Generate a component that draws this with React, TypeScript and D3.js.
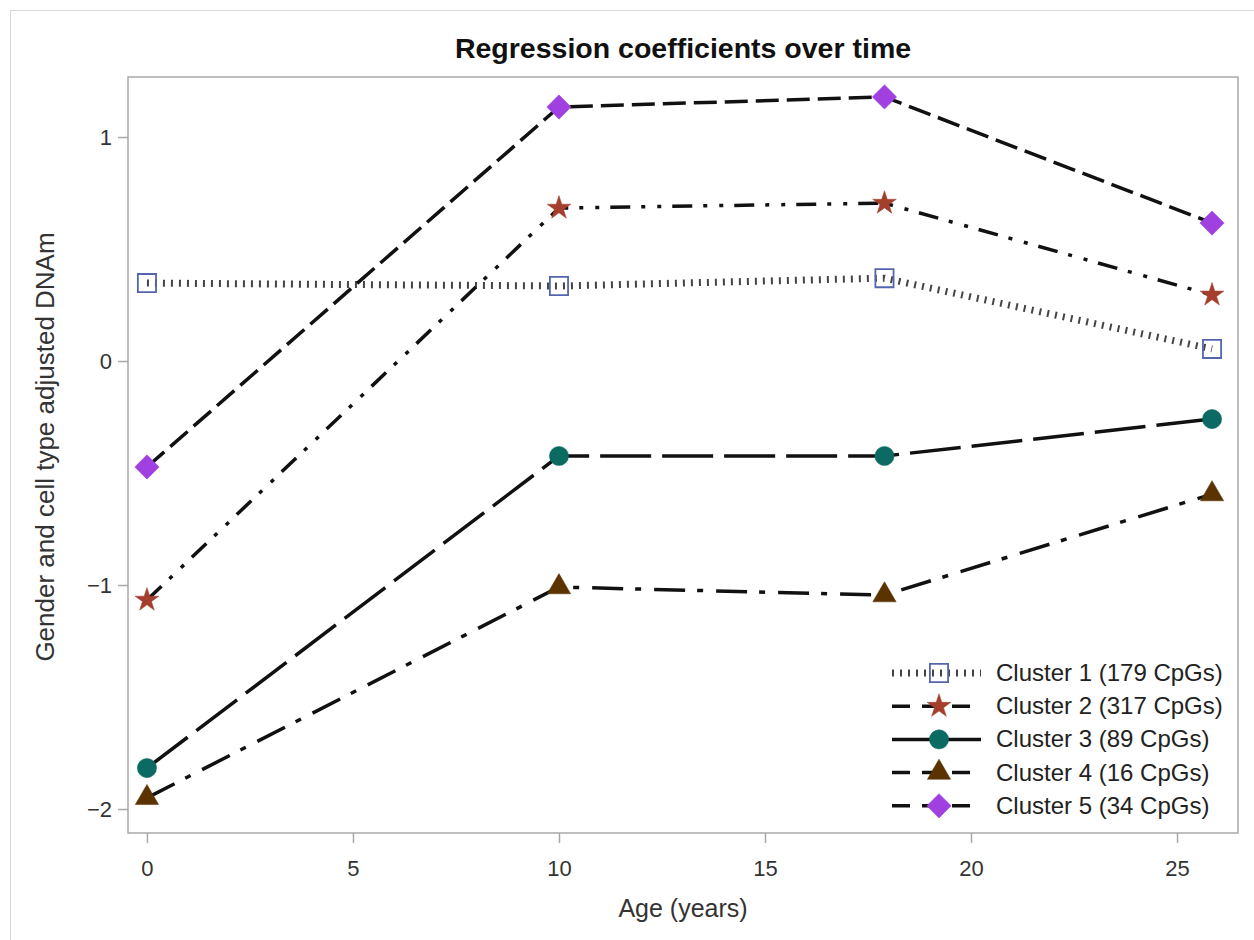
import React, { useEffect, useRef } from "react"
import * as d3 from "d3"

const ages = [0, 10, 17.9, 25.85]
const clusterNames = [
  "Cluster 1 (179 CpGs)",
  "Cluster 2 (317 CpGs)",
  "Cluster 3 (89 CpGs)",
  "Cluster 4 (16 CpGs)",
  "Cluster 5 (34 CpGs)",
]
const cluster1 = [0.348, 0.335, 0.37, 0.054]
const cluster2 = [-1.067, 0.683, 0.705, 0.295]
const cluster3 = [-1.817, -0.424, -0.424, -0.259]
const cluster4 = [-1.95, -1.009, -1.045, -0.594]
const cluster5 = [-0.473, 1.134, 1.179, 0.616]
const xTicks = [0, 5, 10, 15, 20, 25]
const yTicks = [-2, -1, 0, 1]

const W = 1254
const H = 940
const FONT = "'Liberation Sans', Arial, sans-serif"

const styles = [
  { dash: "2,6", width: 7, stroke: "#444", symbol: d3.symbolSquare, size: 330, fill: "none", edge: "#5565ad", rot: 0 },
  { dash: "20,11,4,12,4,11", width: 3.5, stroke: "#111", symbol: d3.symbolStar, size: 175, fill: "#a43f2e", edge: "#a43f2e", rot: 0 },
  { dash: "51,11", width: 3.5, stroke: "#111", symbol: d3.symbolCircle, size: 290, fill: "#0b6a62", edge: "#0b6a62", rot: 0 },
  { dash: "31,12,6,13", width: 3.5, stroke: "#111", symbol: d3.symbolTriangle, size: 235, fill: "#5a3300", edge: "#5a3300", rot: 0 },
  { dash: "23,8", width: 3.5, stroke: "#111", symbol: d3.symbolSquare, size: 295, fill: "#a040e0", edge: "#a040e0", rot: 45 },
]

export default function App() {
  const ref = useRef(null)

  useEffect(() => {
    const svg = d3.select(ref.current)
    svg.selectAll("*").remove()

    const left = 128, right = 1238, top = 77, bottom = 833
    const x = d3.scaleLinear().domain([-0.46, 26.48]).range([left, right])
    const y = d3.scaleLinear().domain([-2.107, 1.268]).range([bottom, top])

    const series = [cluster1, cluster2, cluster3, cluster4, cluster5]

    // outer frame
    svg.append("rect")
      .attr("x", 10.5).attr("y", 10.5)
      .attr("width", W).attr("height", H)
      .attr("fill", "white").attr("stroke", "#d8d8d8")

    svg.append("text")
      .attr("x", (left + right) / 2).attr("y", 58)
      .attr("text-anchor", "middle")
      .style("font-family", FONT).style("font-size", "28.5px").style("font-weight", "bold")
      .attr("fill", "#111")
      .text("Regression coefficients over time")

    // plot area border
    svg.append("rect")
      .attr("x", left).attr("y", top)
      .attr("width", right - left).attr("height", bottom - top)
      .attr("fill", "none").attr("stroke", "#a9a9a9").attr("stroke-width", 1.5)

    const xAxis = svg.append("g")
      .attr("transform", `translate(0,${bottom})`)
      .call(d3.axisBottom(x).tickValues(xTicks).tickSize(10).tickPadding(17).tickFormat(d3.format("d")))
    xAxis.select(".domain").remove()
    xAxis.selectAll("line").attr("stroke", "#a9a9a9").attr("stroke-width", 1.5)
    xAxis.selectAll("text").style("font-family", FONT).style("font-size", "22px").attr("fill", "#333")

    const yAxis = svg.append("g")
      .attr("transform", `translate(${left},0)`)
      .call(d3.axisLeft(y).tickValues(yTicks).tickSize(10).tickPadding(6).tickFormat(d3.format("d")))
    yAxis.select(".domain").remove()
    yAxis.selectAll("line").attr("stroke", "#a9a9a9").attr("stroke-width", 1.5)
    yAxis.selectAll("text").style("font-family", FONT).style("font-size", "22px").attr("fill", "#333")

    svg.append("text")
      .attr("x", (left + right) / 2).attr("y", 917)
      .attr("text-anchor", "middle")
      .style("font-family", FONT).style("font-size", "25px")
      .attr("fill", "#333")
      .text("Age (years)")

    svg.append("text")
      .attr("transform", `translate(54,${(top + bottom) / 2 - 8}) rotate(-90)`)
      .attr("text-anchor", "middle")
      .style("font-family", FONT).style("font-size", "26px")
      .attr("fill", "#333")
      .text("Gender and cell type adjusted DNAm")

    const line = d3.line<number>()
      .x((d, i) => x(ages[i]))
      .y(d => y(d))

    series.forEach((s, k) => {
      const st = styles[k]
      svg.append("path")
        .datum(s)
        .attr("d", line)
        .attr("fill", "none")
        .attr("stroke", st.stroke)
        .attr("stroke-width", st.width)
        .attr("stroke-dasharray", st.dash)
    })

    series.forEach((s, k) => {
      const st = styles[k]
      const sym = d3.symbol().type(st.symbol).size(st.size)
      svg.append("g").selectAll("path")
        .data(s)
        .join("path")
        .attr("d", sym)
        .attr("transform", (d, i) => `translate(${x(ages[i])},${y(d)}) rotate(${st.rot})`)
        .attr("fill", st.fill)
        .attr("stroke", st.edge)
        .attr("stroke-width", st.fill === "none" ? 1.8 : 0.5)
    })

    // legend
    const lg = svg.append("g")
    clusterNames.forEach((name, k) => {
      const st = styles[k]
      const ly = 673 + k * 33.2
      lg.append("line")
        .attr("x1", 892).attr("x2", 981)
        .attr("y1", ly).attr("y2", ly)
        .attr("stroke", st.stroke)
        .attr("stroke-width", st.width)
        .attr("stroke-dasharray", k === 0 ? st.dash : k === 2 ? "40,10" : "18,12")
      lg.append("path")
        .attr("d", d3.symbol().type(st.symbol).size(st.size)())
        .attr("transform", `translate(939,${ly}) rotate(${st.rot})`)
        .attr("fill", st.fill === "none" ? "white" : st.fill)
        .attr("fill-opacity", st.fill === "none" ? 0 : 1)
        .attr("stroke", st.edge)
        .attr("stroke-width", st.fill === "none" ? 1.8 : 0.5)
      lg.append("text")
        .attr("x", 996).attr("y", ly + 8)
        .style("font-family", FONT).style("font-size", "24px")
        .attr("fill", "#222")
        .text(name)
    })
  }, [])

  return (
    <svg
      ref={ref}
      width={W}
      height={H}
      style={{ position: "absolute", left: 0, top: 0, background: "white" }}
    ></svg>
  )
}
